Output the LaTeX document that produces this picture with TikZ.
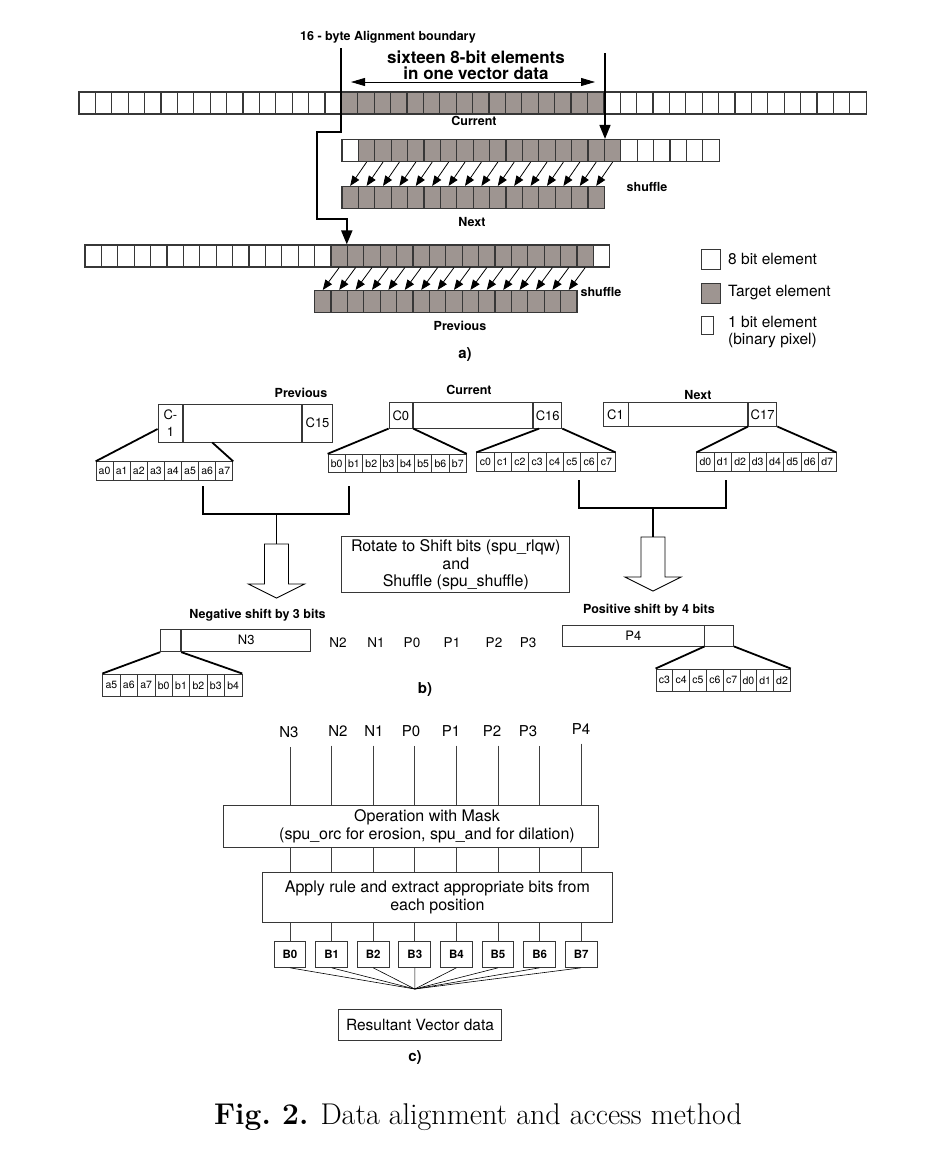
\documentclass[tikz,border=0pt]{standalone}
\usepackage{fontspec}
\newfontfamily\hv{TeX Gyre Heros}
\usetikzlibrary{arrows.meta}
\definecolor{target}{RGB}{158,149,145}
\definecolor{edge}{RGB}{55,55,55}
\tikzset{
  cell/.style={draw=edge, line width=1.2pt, inner sep=0, minimum width=16.4pt, minimum height=22pt},
  bit/.style={draw=edge, line width=0.8pt, inner sep=0, font=\hv\fontsize{10.5}{11}\selectfont},
  blk/.style={draw=edge, line width=0.9pt, inner sep=0, align=center, font=\hv\fontsize{13}{17}\selectfont},
  txtbox/.style={draw=edge, line width=0.9pt, inner sep=0, align=center, font=\hv\fontsize{16}{17.7}\selectfont},
  bbox/.style={draw=edge, line width=1pt, inner sep=0, minimum width=31.7pt, minimum height=25.6pt, font=\hv\bfseries\fontsize{11.5}{12}\selectfont},
  lab/.style={inner sep=0, font=\hv\bfseries\fontsize{12.5}{14}\selectfont},
  txt/.style={inner sep=0, font=\hv\fontsize{15.5}{17}\selectfont},
  plab/.style={inner sep=0, font=\hv\fontsize{13.5}{14}\selectfont},
  clab/.style={inner sep=0, font=\hv\fontsize{15}{16}\selectfont},
  part/.style={inner sep=0, font=\hv\bfseries\fontsize{15}{16}\selectfont},
  shuf/.style={line width=0.8pt, -{Triangle[length=10pt,width=8pt]}},
  bigarrow/.style={line width=1.6pt, -{Triangle[length=14pt,width=11pt]}},
  fan/.style={line width=1.8pt},
  brk/.style={line width=1.4pt},
  wire/.style={draw=black!75, line width=0.8pt},
  holarrow/.pic={
    \draw[line width=0.9pt, fill=white] (-12,0) -- (12,0) -- (12,40) -- (28,40) -- (0,54) -- (-28,40) -- (-12,40) -- cycle;
    \coordinate (-top) at (0,0);}
}
% row of 8-bit cells: name, left x, centre y, last index, first/last target cell
\newcommand\cellrow[6]{%
  \foreach \j in {0,...,#4}{%
    \ifnum\j<#5 \def\cf{white}\else\ifnum\j>#6 \def\cf{white}\else\def\cf{target}\fi\fi
    \node[cell, fill=\cf] (#1-\j) at ({#2+8.2+16.4*\j},#3) {};}}
% row of 1-bit cells: name, left x, centre y, cell width, height, labels
\newcommand\bitrow[6]{%
  \foreach \t [count=\k from 0] in {#6}
    \node[bit, minimum width=#4pt, minimum height=#5pt] (#1-\k) at ({#2+#4/2+#4*\k},#3) {\t};}
\begin{document}
\begin{tikzpicture}[x=1pt, y=-1pt]
  \fill[white] (0,0) rectangle (938,1157);
  \useasboundingbox (0,0) rectangle (938,1157);
  % a) alignment
  \node[lab] (bndlab) at (388,37) {16 - byte Alignment boundary};
  \node[inner sep=0, align=center, font=\hv\bfseries\fontsize{17}{16.5}\selectfont] (sixteen) at (476,65) {sixteen 8-bit elements\\in one vector data};
  \draw[line width=0.8pt, {Triangle[length=14pt,width=8pt]}-{Triangle[length=14pt,width=8pt]}] (351,82) -- (595,82);
  \cellrow{cur}{79}{103}{47}{16}{31}
  \node[lab] (lcur) at (474,121) {Current};
  \cellrow{cs}{342}{150.5}{22}{1}{16}
  \cellrow{nx}{342}{197.5}{15}{0}{15}
  \foreach \k in {0,...,15}{\pgfmathtruncatemacro\m{\k+1}
    \draw[shuf] (cs-\m.south) -- (nx-\k.north);}
  \node[lab] (lshuf1) at (647,187) {shuffle};
  \node[lab] (lnext) at (472,222) {Next};
  \cellrow{pv}{85}{256}{31}{15}{30}
  \cellrow{pr}{314.6}{301.5}{15}{0}{15}
  \foreach \k in {0,...,15}{\pgfmathtruncatemacro\m{\k+15}
    \draw[shuf] (pv-\m.south) -- (pr-\k.north);}
  \node[lab] (lshuf2) at (601,292) {shuffle};
  \node[lab] (lprev) at (460,326) {Previous};
  \draw[bigarrow] (cs-15.north east |- 0,53) -- (cs-15.north east);
  \draw[bigarrow, line width=2pt] (cur-16.west |- 0,48) -- (cur-16.west |- 0,132) -- (317,132) -- (317,219) -| (pv-16.north west);
  \node[part] (pa) at (465,355) {a)};
  % legend
  \node[draw=edge, line width=0.9pt, fill=white, minimum width=19pt, minimum height=20pt] (leg8) at (711,259) {};
  \node[txt, anchor=west] at (728,259) {8 bit element};
  \node[draw=edge, line width=0.9pt, fill=target, minimum width=19pt, minimum height=20pt] (legt) at (711,293) {};
  \node[txt, anchor=west] at (728,293) {Target element};
  \node[draw=edge, line width=0.9pt, fill=white, minimum width=11.5pt, minimum height=18pt] (leg1) at (707.5,325) {};
  \node[txt, anchor=west, align=left] at (728,332.5) {1 bit element\\(binary pixel)};
  % b) blocks
  \node[lab] (bprev) at (301,393) {Previous};
  \node[blk, minimum width=24.7pt, minimum height=38pt] (pcm) at (170.4,423) {C-\\1};
  \node[blk, minimum width=118pt, minimum height=38pt, anchor=west] (pmid) at (pcm.east) {};
  \node[blk, minimum width=30pt, minimum height=38pt, anchor=west] (p15) at (pmid.east) {C15};
  \node[lab] (bcur) at (469,390) {Current};
  \node[blk, minimum width=23.7pt, minimum height=25.3pt] (cc0) at (400.9,415.5) {C0};
  \node[blk, minimum width=119pt, minimum height=25.3pt, anchor=west] (cmid) at (cc0.east) {};
  \node[blk, minimum width=28.3pt, minimum height=25.3pt, anchor=west] (c16) at (cmid.east) {C16};
  \node[lab] (bnext) at (698,395) {Next};
  \node[blk, minimum width=25pt, minimum height=23.3pt] (nc1) at (615.5,414.4) {C1};
  \node[blk, minimum width=118.7pt, minimum height=23.3pt, anchor=west] (nmid) at (nc1.east) {};
  \node[blk, minimum width=28.3pt, minimum height=23.3pt, anchor=west] (n17) at (nmid.east) {C17};
  \bitrow{ra}{96}{471}{17.1}{18.5}{a0,a1,a2,a3,a4,a5,a6,a7}
  \bitrow{rb}{328}{463.5}{17.3}{18.5}{b0,b1,b2,b3,b4,b5,b6,b7}
  \bitrow{rc}{476.7}{462}{17.3}{18.5}{c0,c1,c2,c3,c4,c5,c6,c7}
  \bitrow{rd}{696.7}{462}{17.4}{18.5}{d0,d1,d2,d3,d4,d5,d6,d7}
  \draw[fan] ([yshift=-6pt]pcm.west) -- (ra-0.north west);
  \draw[fan] ([xshift=29pt]pmid.south west) -- (ra-7.north east);
  \draw[fan] (cc0.south west) -- (rb-0.north west);
  \draw[fan] (cc0.south east) -- (rb-7.north east);
  \draw[fan] ([xshift=6pt]c16.south west) -- (rc-0.north west);
  \draw[fan] (c16.south east) -- (rc-7.north east);
  \draw[fan] (n17.south west) -- (rd-0.north west);
  \draw[fan] (n17.south east) -- (rd-7.north east);
  % brackets and shift arrows
  \pic (holl) at (276.5,544) {holarrow};
  \pic (holr) at (653,537) {holarrow};
  \draw[brk] (203,486) |- (349,514) -- (349,486);
  \draw[brk] (holl-top |- 0,514) -- (holl-top);
  \draw[brk] (579,480) |- (726,508) -- (726,480);
  \draw[brk] (holr-top |- 0,508) -- (holr-top);
  \node[txtbox, minimum width=228pt, minimum height=56pt] (rot) at (455.8,564.8) {Rotate to Shift bits (spu\_rlqw)\\and\\Shuffle (spu\_shuffle)};
  \node[lab] (lneg) at (257.5,615) {Negative shift by 3 bits};
  \node[blk, minimum width=20pt, minimum height=22.7pt] (nsq) at (170.7,640.3) {};
  \node[blk, minimum width=129.3pt, minimum height=22.7pt, anchor=west] (n3) at (nsq.east) {N3};
  \bitrow{rn}{102.7}{685.3}{17.4}{22.7}{a5,a6,a7,b0,b1,b2,b3,b4}
  \draw[fan] (nsq.south west) -- (rn-0.north west);
  \draw[fan] (nsq.south east) -- (rn-7.north east);
  \foreach \t/\x in {N2/338, N1/376, P0/412, P1/452, P2/494, P3/528}
    \node[plab] (b\t) at (\x,643) {\t};
  \node[lab] (lpos) at (649,610) {Positive shift by 4 bits};
  \node[blk, minimum width=141.3pt, minimum height=21pt] (p4) at (633.35,635.5) {P4};
  \node[blk, minimum width=28.7pt, minimum height=21pt, anchor=west] (psq) at (p4.east) {};
  \bitrow{rp}{656}{680.3}{16.8}{22.7}{c3,c4,c5,c6,c7,d0,d1,d2}
  \draw[fan] (psq.south west) -- (rp-0.north west);
  \draw[fan] (psq.south east) -- (rp-7.north east);
  \node[part] (pb) at (425,690) {b)};
  % c) mask and extract
  \foreach \t/\x/\y in {N3/289/732, N2/338/731, N1/374/731, P0/411/731, P1/451/731, P2/492/731, P3/528/731, P4/581/729}
    \node[clab] (t\t) at (\x,\y) {\t};
  \node[txtbox, minimum width=375pt, minimum height=42.3pt] (opm) at (410.5,826.2) {};
  \node[txtbox, draw=none] (opmtxt) at (427,826.2) {Operation with Mask\\(spu\_orc for erosion, spu\_and for dilation)};
  \node[txtbox, minimum width=349.3pt, minimum height=49.6pt] (apr) at (437.4,897.5) {Apply rule and extract appropriate bits from\\each position};
  \foreach \k in {0,...,7}
    \node[bbox] (B\k) at ({290+41.6*\k},954.5) {B\k};
  \foreach \t [count=\k from 0] in {N3,N2,N1,P0,P1,P2,P3,P4}{
    \coordinate (w) at ([yshift=-9pt]t\t.south);
    \draw[wire] (B\k.north |- w) -- (B\k.north |- opm.north);
    \draw[wire] (B\k.north |- opm.south) -- (B\k.north |- apr.north);
    \draw[wire] (B\k.north |- apr.south) -- (B\k.north);}
  \coordinate (cv) at (414.8,989);
  \foreach \k in {0,...,7}
    \draw[line width=0.6pt] (B\k.south) -- (cv);
  \node[txtbox, minimum width=163.4pt, minimum height=30.7pt, font=\hv\fontsize{15.5}{17}\selectfont] (res) at (420,1024.7) {Resultant Vector data};
  \node[part] (pc) at (415,1058) {c)};
  \node[inner sep=0, font=\fontsize{30}{31}\selectfont] (cap) at (478,1117) {\textbf{Fig.\ 2.} Data alignment and access method};
\end{tikzpicture}
\end{document}
